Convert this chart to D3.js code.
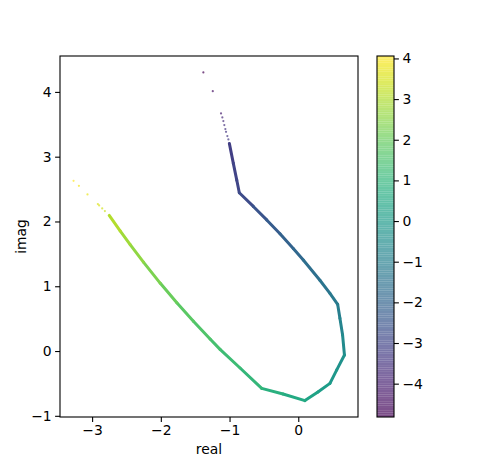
<!DOCTYPE html>
<html>
<head>
<meta charset="utf-8">
<script src="https://cdn.jsdelivr.net/npm/d3@7"></script>
<style>
  body { margin: 0; background: #fff; }
  text { font-family: "DejaVu Sans", sans-serif; font-size: 13.9px; fill: #000; }
</style>
</head>
<body>
<div id="chart"></div>
<script>
// Sparse points at both ends of the parameter range (drawn as single dots)
const dotReal = [-1.381, -1.244, -1.124, -1.105, -1.090, -1.076, -1.061, -1.051, -1.032, -1.017,
                 -2.814, -2.853, -2.897, -2.916, -3.067, -3.192, -3.270];
const dotImag = [4.301, 4.012, 3.668, 3.606, 3.549, 3.488, 3.426, 3.384, 3.318, 3.267,
                 2.160, 2.202, 2.248, 2.269, 2.418, 2.551, 2.628];
const dotT    = [-4.82, -4.35, -4.05, -3.80, -3.70, -3.60, -3.50, -3.45, -3.40, -3.35,
                 3.35, 3.45, 3.55, 3.60, 3.75, 3.90, 4.06];

// Dense middle part, where the points merge into a continuous trace
const curveReal = [-1.003, -0.945, -0.895, -0.858, -0.654, -0.459, -0.266, -0.073, 0.073, 0.315,
                   0.461, 0.573, 0.606, 0.645, 0.672, 0.560, 0.461, 0.286, 0.097, -0.222,
                   -0.532, -0.847, -1.138, -1.283, -1.526, -1.767, -2.010, -2.253, -2.446, -2.592, -2.751];
const curveImag = [3.205, 2.897, 2.639, 2.443, 2.232, 2.024, 1.810, 1.583, 1.405, 1.093,
                   0.889, 0.722, 0.505, 0.247, -0.062, -0.290, -0.499, -0.633, -0.765, -0.664,
                   -0.576, -0.262, 0.026, 0.186, 0.461, 0.745, 1.049, 1.372, 1.642, 1.854, 2.093];
const curveT    = [-3.25, -3.10, -3.00, -2.90, -2.65, -2.40, -2.15, -1.95, -1.75, -1.50,
                   -1.30, -1.15, -0.95, -0.70, -0.45, -0.20, 0.00, 0.20, 0.45, 0.70,
                   0.95, 1.15, 1.40, 1.50, 1.70, 1.90, 2.15, 2.45, 2.70, 2.90, 3.15];

const cbTicks = [-4, -3, -2, -1, 0, 1, 2, 3, 4];

const width = 480, height = 468;
const ax = { left: 60, right: 358, top: 56, bottom: 417 };
const cb = { left: 377, right: 394 };

const svg = d3.select('#chart').append('svg')
    .attr('width', width)
    .attr('height', height);

// matplotlib-style 5% margins
function padded(values) {
    const [a, b] = d3.extent(values);
    const m = (b - a) * 0.05;
    return [a - m, b + m];
}

const allReal = dotReal.concat(curveReal);
const allImag = dotImag.concat(curveImag);
const allT = dotT.concat(curveT);

const x = d3.scaleLinear().domain(padded(allReal)).range([ax.left, ax.right]);
const y = d3.scaleLinear().domain(padded(allImag)).range([ax.bottom, ax.top]);
const color = d3.scaleSequential(d3.interpolateViridis).domain(d3.extent(allT));

const fmt = d => d3.format('d')(d).replace('-', '\u2212');

// Trace segments
const segs = d3.range(curveReal.length - 1);
svg.append('g').selectAll('line')
    .data(segs)
    .enter().append('line')
    .attr('x1', i => x(curveReal[i]))
    .attr('y1', i => y(curveImag[i]))
    .attr('x2', i => x(curveReal[i + 1]))
    .attr('y2', i => y(curveImag[i + 1]))
    .attr('stroke', i => color((curveT[i] + curveT[i + 1]) / 2))
    .attr('stroke-width', 3)
    .attr('stroke-linecap', 'round');

// Sparse dots
svg.append('g').selectAll('circle')
    .data(d3.range(dotReal.length))
    .enter().append('circle')
    .attr('cx', i => x(dotReal[i]))
    .attr('cy', i => y(dotImag[i]))
    .attr('r', 1.1)
    .attr('fill', i => color(dotT[i]))
    .attr('fill-opacity', 0.7);

// Axes
const xAxis = d3.axisBottom(x).ticks(5).tickSize(4.9).tickPadding(3.5).tickFormat(fmt);
const yAxis = d3.axisLeft(y).ticks(6).tickSize(4.9).tickPadding(3.5).tickFormat(fmt);

const gx = svg.append('g').attr('transform', `translate(0,${ax.bottom})`).call(xAxis);
const gy = svg.append('g').attr('transform', `translate(${ax.left},0)`).call(yAxis);
[gx, gy].forEach(g => {
    g.select('.domain').remove();
    g.selectAll('line').attr('stroke', '#000').attr('stroke-width', 1.1);
    g.selectAll('text').attr('font-size', null).attr('font-family', null).style('font-size', '13.9px');
});

svg.append('rect')
    .attr('x', ax.left).attr('y', ax.top)
    .attr('width', ax.right - ax.left).attr('height', ax.bottom - ax.top)
    .attr('fill', 'none').attr('stroke', '#000').attr('stroke-width', 1.1);

svg.append('text')
    .attr('x', (ax.left + ax.right) / 2).attr('y', 454)
    .attr('text-anchor', 'middle')
    .text('real');

svg.append('text')
    .attr('transform', `translate(25.5,${(ax.top + ax.bottom) / 2}) rotate(-90)`)
    .attr('text-anchor', 'middle')
    .text('imag');

// Colorbar
const cbY = d3.scaleLinear().domain(color.domain()).range([ax.bottom, ax.top]);
const nBands = 160;
const [t0, t1] = color.domain();
const bandEdges = d3.range(nBands + 1).map(k => t0 + (t1 - t0) * k / nBands);
svg.append('g').selectAll('rect')
    .data(d3.range(nBands))
    .enter().append('rect')
    .attr('x', cb.left)
    .attr('width', cb.right - cb.left)
    .attr('y', k => cbY(bandEdges[k + 1]))
    .attr('height', k => cbY(bandEdges[k]) - cbY(bandEdges[k + 1]))
    .attr('fill', k => color((bandEdges[k] + bandEdges[k + 1]) / 2))
    .attr('fill-opacity', 0.7);

svg.append('rect')
    .attr('x', cb.left).attr('y', ax.top)
    .attr('width', cb.right - cb.left).attr('height', ax.bottom - ax.top)
    .attr('fill', 'none').attr('stroke', '#000').attr('stroke-width', 1.1);

const gc = svg.append('g').attr('transform', `translate(${cb.right},0)`)
    .call(d3.axisRight(cbY).tickValues(cbTicks).tickSize(4.9).tickPadding(3.5).tickFormat(fmt));
gc.select('.domain').remove();
gc.selectAll('line').attr('stroke', '#000').attr('stroke-width', 1.1);
gc.selectAll('text').attr('font-size', null).attr('font-family', null).style('font-size', '13.9px');
</script>
</body>
</html>
